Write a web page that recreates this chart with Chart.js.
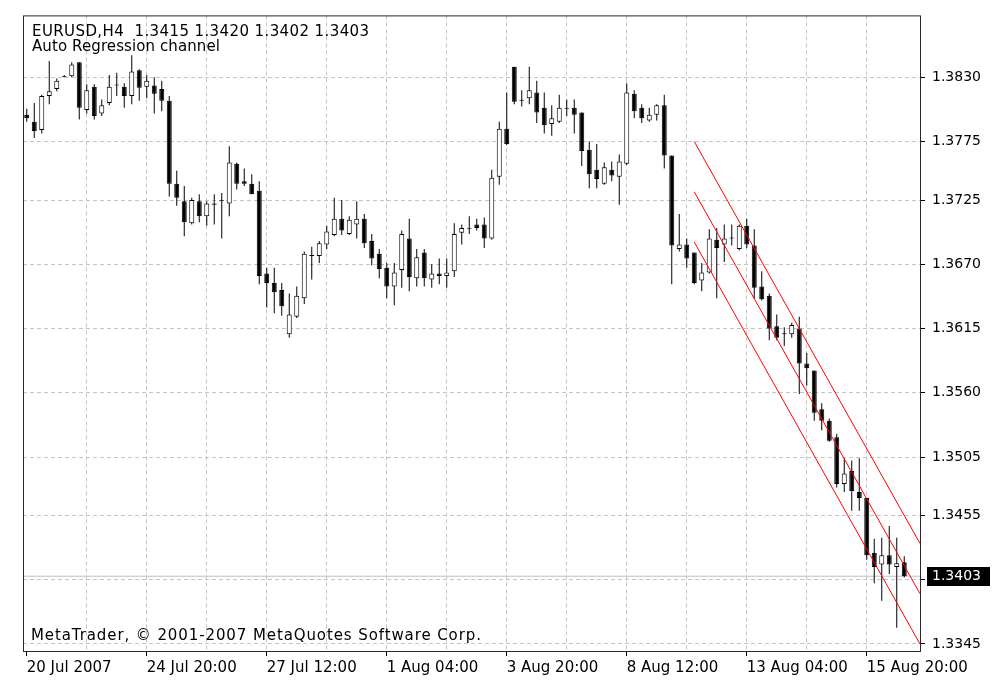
<!DOCTYPE html>
<html><head><meta charset="utf-8">
<script src="https://cdn.jsdelivr.net/npm/chart.js@4.4.0/dist/chart.umd.min.js"></script>
<style>html,body{margin:0;padding:0;background:#fff;overflow:hidden}canvas{display:block}</style>
</head><body>
<canvas id="c" width="1007" height="697"></canvas>
<script>
// ---------- data ----------
const symbolTitle = 'EURUSD,H4  1.3415 1.3420 1.3402 1.3403';
const indicatorTitle = 'Auto Regression channel';
const copyrightText = 'MetaTrader, \u00A9 2001-2007 MetaQuotes Software Corp.';

const opens = [
1.3798,1.3792,1.3785,1.3814,1.3820,1.3830,1.3831,1.3843,1.3802,1.3822,
1.3799,1.3808,1.3823,1.3822,1.3814,1.3836,1.3822,1.3823,1.3820,1.3810,
1.3739,1.3724,1.3705,1.3724,1.3711,1.3722,1.3724,1.3722,1.3756,1.3741,
1.3739,1.3733,1.3662,1.3654,1.3648,1.3610,1.3625,1.3641,1.3677,1.3677,
1.3687,1.3695,1.3709,1.3696,1.3704,1.3709,1.3690,1.3679,1.3667,1.3651,
1.3665,1.3692,1.3658,1.3680,1.3657,1.3662,1.3660,1.3664,1.3697,1.3700,
1.3704,1.3704,1.3692,1.3745,1.3786,1.3839,1.3810,1.3812,1.3817,1.3804,
1.3790,1.3792,1.3803,1.3804,1.3800,1.3768,1.3751,1.3739,1.3751,1.3745,
1.3756,1.3816,1.3804,1.3793,1.3798,1.3806,1.3763,1.3683,1.3687,1.3680,
1.3656,1.3663,1.3691,1.3687,1.3692,1.3683,1.3703,1.3686,1.3651,1.3643,
1.3617,1.3610,1.3610,1.3615,1.3585,1.3579,1.3546,1.3536,1.3522,1.3482,
1.3493,1.3475,1.3470,1.3423,1.3413,1.3421,1.3411,1.3415];
const highs = [
1.3803,1.3808,1.3815,1.3844,1.3829,1.3832,1.3843,1.3843,1.3824,1.3824,
1.3811,1.3832,1.3834,1.3825,1.3849,1.3837,1.3832,1.3830,1.3827,1.3814,
1.3750,1.3737,1.3727,1.3730,1.3724,1.3730,1.3731,1.3771,1.3757,1.3752,
1.3747,1.3741,1.3667,1.3667,1.3654,1.3645,1.3651,1.3681,1.3685,1.3690,
1.3703,1.3727,1.3725,1.3711,1.3724,1.3713,1.3696,1.3683,1.3671,1.3671,
1.3699,1.3709,1.3683,1.3683,1.3670,1.3675,1.3675,1.3705,1.3704,1.3711,
1.3709,1.3710,1.3751,1.3792,1.3817,1.3839,1.3819,1.3839,1.3827,1.3817,
1.3806,1.3815,1.3811,1.3811,1.3800,1.3775,1.3773,1.3757,1.3758,1.3764,
1.3825,1.3819,1.3807,1.3804,1.3807,1.3815,1.3763,1.3713,1.3692,1.3680,
1.3671,1.3700,1.3701,1.3704,1.3704,1.3704,1.3709,1.3700,1.3664,1.3645,
1.3627,1.3616,1.3620,1.3625,1.3594,1.3579,1.3551,1.3538,1.3525,1.3504,
1.3502,1.3504,1.3470,1.3435,1.3436,1.3446,1.3436,1.3420];
const lows = [
1.3792,1.3778,1.3782,1.3807,1.3818,1.3830,1.3830,1.3794,1.3799,1.3794,
1.3797,1.3806,1.3814,1.3804,1.3807,1.3810,1.3812,1.3799,1.3801,1.3728,
1.3720,1.3694,1.3704,1.3706,1.3703,1.3704,1.3692,1.3711,1.3734,1.3737,
1.3730,1.3653,1.3633,1.3628,1.3626,1.3607,1.3624,1.3636,1.3657,1.3671,
1.3683,1.3694,1.3695,1.3695,1.3692,1.3684,1.3669,1.3658,1.3641,1.3635,
1.3650,1.3647,1.3651,1.3651,1.3650,1.3653,1.3650,1.3659,1.3687,1.3696,
1.3699,1.3684,1.3691,1.3738,1.3772,1.3807,1.3805,1.3807,1.3791,1.3782,
1.3780,1.3791,1.3797,1.3782,1.3754,1.3735,1.3735,1.3738,1.3741,1.3721,
1.3755,1.3795,1.3791,1.3792,1.3793,1.3752,1.3653,1.3681,1.3667,1.3653,
1.3647,1.3662,1.3641,1.3672,1.3686,1.3682,1.3684,1.3641,1.3639,1.3605,
1.3605,1.3600,1.3607,1.3559,1.3566,1.3536,1.3528,1.3518,1.3479,1.3475,
1.3459,1.3459,1.3417,1.3397,1.3382,1.3405,1.3359,1.3402];
const closes = [
1.3795,1.3784,1.3814,1.3818,1.3827,1.3831,1.3841,1.3804,1.3819,1.3797,
1.3806,1.3822,1.3823,1.3814,1.3835,1.3821,1.3827,1.3816,1.3810,1.3739,
1.3727,1.3706,1.3725,1.3711,1.3722,1.3721,1.3724,1.3757,1.3739,1.3739,
1.3730,1.3660,1.3654,1.3646,1.3634,1.3627,1.3643,1.3679,1.3677,1.3688,
1.3698,1.3709,1.3699,1.3708,1.3709,1.3688,1.3675,1.3666,1.3651,1.3663,
1.3696,1.3659,1.3676,1.3658,1.3662,1.3660,1.3663,1.3696,1.3701,1.3700,
1.3701,1.3692,1.3744,1.3786,1.3773,1.3809,1.3810,1.3819,1.3800,1.3789,
1.3795,1.3804,1.3803,1.3798,1.3767,1.3747,1.3743,1.3753,1.3746,1.3758,
1.3817,1.3801,1.3795,1.3798,1.3806,1.3763,1.3686,1.3687,1.3675,1.3654,
1.3663,1.3692,1.3684,1.3692,1.3692,1.3703,1.3687,1.3650,1.3640,1.3615,
1.3607,1.3610,1.3618,1.3585,1.3581,1.3543,1.3536,1.3519,1.3482,1.3491,
1.3476,1.3470,1.3421,1.3411,1.3421,1.3413,1.3414,1.3403];

// time labels, one per 16 H4 bars starting at bar 0
const timeLabels = ['20 Jul 2007','24 Jul 20:00','27 Jul 12:00','1 Aug 04:00',
                    '3 Aug 20:00','8 Aug 12:00','13 Aug 04:00','15 Aug 20:00'];
// price-axis tick values (1.3400 sits under the current-price box)
const yTickValues = [1.3830,1.3775,1.3725,1.3670,1.3615,1.3560,1.3505,1.3455,1.3400,1.3345];
const hiddenTickValue = 1.3400;
const yMin = 1.3339, yMax = 1.3883;

// regression channel (start bar, right edge)
const channelBars   = [89, 119.1];
const channelUpper  = [1.3775, 1.3431];
const channelMiddle = [1.3732, 1.3388];
const channelLower  = [1.3689, 1.3345];
const bidPrice = 1.3403;

// ---------- chart ----------
const xMin = -0.5, xMax = 119.1;
const barsPerLabel = 16, barsPerGrid = 8;
const FONT = "'DejaVu Sans', Verdana, sans-serif";

const bodyData = opens.map((o, i) => ({x: i, y: [o, closes[i]]}));
const wickData = highs.map((h, i) => ({x: i, y: [lows[i], h]}));
const isBull = i => closes[i] >= opens[i];
const labelFor = v => (v % barsPerLabel === 0) ? (timeLabels[v / barsPerLabel] || '') : '';
const gridBars = [];
for (let b = 0; b <= 112; b += barsPerGrid) gridBars.push(b);

const lineDs = (vals, color, order) => ({
  type: 'line',
  data: channelBars.map((b, i) => ({x: b, y: vals[i]})),
  borderColor: color, borderWidth: 1, pointRadius: 0, tension: 0, fill: false, order
});

const overlayPlugin = {
  id: 'overlay',
  afterDraw(chart) {
    const {ctx, chartArea: a, scales} = chart;
    ctx.save();
    // frame
    ctx.strokeStyle = '#2a2a2a';
    ctx.lineWidth = 1;
    ctx.strokeRect(a.left + 0.5, a.top + 0.5, a.right - a.left, a.bottom - a.top);
    // texts
    ctx.fillStyle = '#000';
    ctx.textAlign = 'left';
    ctx.textBaseline = 'alphabetic';
    ctx.font = '15px ' + FONT;
    ctx.letterSpacing = '0.4px';
    ctx.fillText(symbolTitle, a.left + 9, a.top + 21);
    ctx.letterSpacing = '0.1px';
    ctx.fillText(indicatorTitle, a.left + 9, a.top + 36);
    ctx.letterSpacing = '0.9px';
    ctx.textBaseline = 'middle';
    ctx.fillText(copyrightText, a.left + 8, a.bottom - 15);
    ctx.letterSpacing = '0px';
    // current price box
    const y = scales.y.getPixelForValue(bidPrice);
    ctx.fillStyle = '#000';
    ctx.fillRect(a.right + 7, Math.round(y) - 9, 63, 19);
    ctx.fillStyle = '#fff';
    ctx.font = '14px ' + FONT;
    ctx.fillText(bidPrice.toFixed(4), a.right + 12, Math.round(y) + 0.5);
    ctx.restore();
  }
};

new Chart(document.getElementById('c'), {
  type: 'bar',
  data: {
    datasets: [
      lineDs(channelUpper, '#ff0000', 0),
      lineDs(channelMiddle, '#ff0000', 0),
      lineDs(channelLower, '#ff0000', 0),
      {
        type: 'bar', data: bodyData, barThickness: 5, grouped: false,
        backgroundColor: c => isBull(c.dataIndex) ? '#ffffff' : '#000000',
        borderColor: '#000000', borderWidth: 1, borderSkipped: false,
        minBarLength: 1, inflateAmount: 0, order: 1
      },
      {
        type: 'bar', data: wickData, barThickness: 1, grouped: false,
        backgroundColor: '#000000', borderWidth: 0, inflateAmount: 0, order: 2
      },
      {
        type: 'line', data: [{x: xMin, y: bidPrice}, {x: xMax, y: bidPrice}],
        borderColor: '#c0c0c0', borderWidth: 1, pointRadius: 0, order: 3
      }
    ]
  },
  options: {
    responsive: false, animation: false, devicePixelRatio: 1, events: [],
    layout: {padding: {left: 23, top: 14, right: 0, bottom: 0}},
    plugins: {legend: {display: false}, tooltip: {enabled: false}, title: {display: false}},
    scales: {
      x: {
        type: 'linear', min: xMin, max: xMax, offset: false,
        afterBuildTicks: s => { s.ticks = gridBars.map(v => ({value: v})); },
        afterFit: s => { s.height = 46; },
        ticks: {
          autoSkip: false, maxRotation: 0, minRotation: 0, align: 'start', padding: 3,
          color: '#000', font: {family: FONT, size: 15},
          callback: v => labelFor(v)
        },
        grid: {
          offset: false,
          color: c => (c.tick && c.tick.value === 0) ? 'rgba(0,0,0,0)' : '#c4c4c4',
          tickColor: c => (c.tick && labelFor(c.tick.value)) ? '#000' : 'rgba(0,0,0,0)',
          tickBorderDash: [], tickLength: 5, tickWidth: 1, lineWidth: 1
        },
        border: {display: false, dash: [4, 3]}
      },
      y: {
        type: 'linear', position: 'right', min: yMin, max: yMax,
        afterBuildTicks: s => { s.ticks = yTickValues.map(v => ({value: v})); },
        afterFit: s => { s.width = 87; },
        ticks: {
          padding: 7, color: '#000', font: {family: FONT, size: 14},
          callback: v => (Math.abs(v - hiddenTickValue) < 1e-9) ? '' : v.toFixed(4)
        },
        grid: {offset: false, color: '#c4c4c4', tickColor: '#000', tickBorderDash: [], tickLength: 5, tickWidth: 1, lineWidth: 1},
        border: {display: false, dash: [4, 3]}
      }
    }
  },
  plugins: [overlayPlugin]
});
</script>
</body></html>
